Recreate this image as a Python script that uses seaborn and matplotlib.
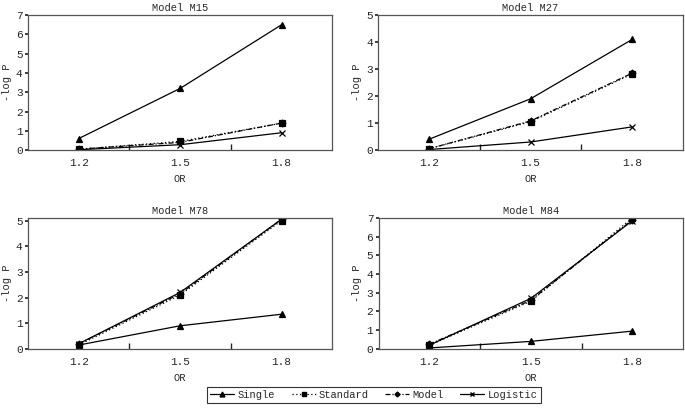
import numpy as np
import pandas as pd
import matplotlib
matplotlib.use("Agg")
import matplotlib.pyplot as plt
import seaborn as sns
from matplotlib.ticker import FixedLocator
from matplotlib.lines import Line2D

# x categories and series values
or_labels = ["1.2", "1.5", "1.8"]
methods = ["Single", "Standard", "Model", "Logistic"]

m15 = {"Single": [0.6, 3.2, 6.5], "Standard": [0.05, 0.45, 1.4],
       "Model": [0.05, 0.40, 1.4], "Logistic": [0.02, 0.28, 0.9]}
m27 = {"Single": [0.4, 1.9, 4.1], "Standard": [0.05, 1.05, 2.82],
       "Model": [0.05, 1.08, 2.85], "Logistic": [0.02, 0.3, 0.86]}
m78 = {"Single": [0.15, 0.9, 1.35], "Standard": [0.15, 2.1, 5.0],
       "Model": [0.2, 2.15, 5.05], "Logistic": [0.2, 2.2, 5.05]}
m84 = {"Single": [0.05, 0.4, 0.95], "Standard": [0.2, 2.55, 7.0],
       "Model": [0.25, 2.6, 6.9], "Logistic": [0.2, 2.7, 6.85]}

panels = [("Model M15", m15, 7), ("Model M27", m27, 5),
          ("Model M78", m78, 5.1), ("Model M84", m84, 7)]

sns.set_theme(style="white")
plt.rcParams["font.family"] = ["Liberation Mono", "DejaVu Sans"]
fs = 7.5

markers = {"Single": "^", "Standard": "s", "Model": "D", "Logistic": "x"}
styles = {"Single": "-", "Standard": (0, (1, 2)), "Model": (0, (4, 1.5, 1, 1.5)), "Logistic": "-"}
msize = {"Single": 4.5, "Standard": 4.5, "Model": 3.5, "Logistic": 4.5}

fig = plt.figure(figsize=(6.85, 4.09), dpi=100)
boxes = [(0.041, 0.633, 0.444, 0.330), (0.552, 0.633, 0.445, 0.330),
         (0.041, 0.147, 0.444, 0.320), (0.553, 0.147, 0.444, 0.320)]

for (title, data, ymax), box in zip(panels, boxes):
    ax = fig.add_axes(box)
    for m in methods:
        df = pd.DataFrame({"x": [0, 1, 2], "y": data[m]})
        sns.lineplot(data=df, x="x", y="y", color="black", linestyle=styles[m],
                     marker=markers[m], markersize=msize[m], linewidth=0.9,
                     markeredgecolor="black", markeredgewidth=0.9, ax=ax)
    ax.set_xlim(-0.5, 2.5)
    ax.set_ylim(0, ymax)
    ax.set_xticks([0, 1, 2])
    ax.set_xticklabels(or_labels)
    ax.xaxis.set_minor_locator(FixedLocator([0.5, 1.5]))
    ax.tick_params(axis="x", which="major", length=0, labelsize=fs + 0.5, pad=6)
    ax.tick_params(axis="x", which="minor", length=4, direction="in", bottom=True)
    ax.set_yticks(range(0, int(ymax) + 1))
    ax.tick_params(axis="y", length=2, direction="out", left=True, labelsize=fs + 0.5, pad=2)
    for s in ax.spines.values():
        s.set_color("#555555")
        s.set_linewidth(0.9)
    ax.set_title(title, fontsize=fs, pad=3)
    ax.set_xlabel("OR", fontsize=fs, labelpad=4)
    ax.set_ylabel("-log P", fontsize=fs, labelpad=3)

# shared legend along the bottom
handles = [Line2D([], [], color="black", lw=0.9, linestyle=styles[m],
                  marker=markers[m], markersize=msize[m] - 1)
           for m in methods]
leg = fig.legend(handles, methods, loc="lower center", ncol=4,
                 bbox_to_anchor=(0.546, 0.015), borderaxespad=0, fontsize=fs,
                 frameon=True, fancybox=False, edgecolor="black",
                 handlelength=2.3, columnspacing=1.6, handletextpad=0.3,
                 borderpad=0.3)
leg.get_frame().set_linewidth(0.8)

fig.savefig("out.png", dpi=100)
